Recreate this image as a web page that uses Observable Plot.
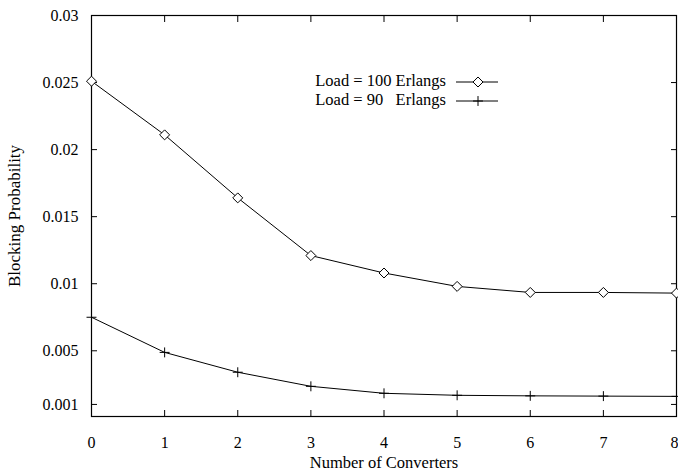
<!DOCTYPE html>
<html>
<head>
<meta charset="utf-8">
<script src="https://cdn.jsdelivr.net/npm/d3@7"></script>
<script src="https://cdn.jsdelivr.net/npm/@observablehq/plot@0.6"></script>
<style>
  html, body { margin: 0; padding: 0; background: #fff; }
  #wrap { position: relative; width: 678px; height: 472px; }
  #legend { position: absolute; left: 0; top: 0; width: 678px; height: 472px; pointer-events: none; }
</style>
</head>
<body>
<div id="wrap"></div>
<script>
const converters = [0, 1, 2, 3, 4, 5, 6, 7, 8];
const load100 = [0.0251, 0.0211, 0.0164, 0.0121, 0.0108, 0.0098, 0.00935, 0.00935, 0.0093];
const load90 = [0.0075, 0.00488, 0.0034, 0.00235, 0.00183, 0.00168, 0.00164, 0.00162, 0.0016];
const yTicks = [0.001, 0.005, 0.01, 0.015, 0.02, 0.025, 0.03];
const yTickLabels = ["0.001", "0.005", "0.01", "0.015", "0.02", "0.025", "0.03"];
const xTicks = [0, 1, 2, 3, 4, 5, 6, 7, 8];
const xTickLabels = ["0", "1", "2", "3", "4", "5", "6", "7", "8"];
const seriesNames = ["Load = 100 Erlangs", "Load = 90   Erlangs"];

const d100 = converters.map((x, i) => ({x, y: load100[i]}));
const d90 = converters.map((x, i) => ({x, y: load90[i]}));
const fmtY = d => yTickLabels[yTicks.indexOf(d)];
const font = "Liberation Serif, Times New Roman, serif";
const lastX = xTicks[xTicks.length - 1];

const chart = Plot.plot({
  width: 678,
  height: 472,
  marginLeft: 91,
  marginRight: 2,
  marginTop: 15,
  marginBottom: 56,
  style: {fontFamily: font, fontSize: "16px", color: "#000", background: "#fff"},
  x: {domain: [0, 8]},
  y: {domain: [0.0001, 0.03]},
  marks: [
    Plot.frame({stroke: "#000", strokeWidth: 1.2}),
    // y tick labels
    Plot.axisY({ticks: yTicks, tickFormat: fmtY, tickSize: 0, tickPadding: 13, fontSize: 16, label: null}),
    // x tick labels (last one right-aligned so it stays inside the picture)
    Plot.text(xTicks.filter(d => d !== lastX), {x: d => d, text: d => xTickLabels[xTicks.indexOf(d)], frameAnchor: "bottom", dy: 31, fontSize: 16}),
    Plot.text([lastX], {x: d => d, text: d => xTickLabels[xTicks.indexOf(d)], frameAnchor: "bottom", dy: 31, dx: 2, textAnchor: "end", fontSize: 16}),
    // inward ticks (mirrored)
    Plot.axisY({ticks: yTicks, tickFormat: () => "", tickSize: -6, label: null}),
    Plot.axisY({anchor: "right", ticks: yTicks, tickFormat: () => "", tickSize: -6, label: null}),
    Plot.axisX({ticks: xTicks, tickFormat: () => "", tickSize: -6, label: null}),
    Plot.axisX({anchor: "top", ticks: xTicks, tickFormat: () => "", tickSize: -6, label: null}),
    Plot.line(d100, {x: "x", y: "y", stroke: "#000", strokeWidth: 1}),
    Plot.dot(d100, {x: "x", y: "y", symbol: "diamond2", r: 4.5, stroke: "#000", fill: "#fff", strokeWidth: 1}),
    Plot.line(d90, {x: "x", y: "y", stroke: "#000", strokeWidth: 1}),
    Plot.dot(d90, {x: "x", y: "y", symbol: "plus", r: 3.3, stroke: "#000", strokeWidth: 1})
  ]
});

const wrap = document.getElementById("wrap");
wrap.appendChild(chart);

// axis titles & legend overlay
const ns = "http://www.w3.org/2000/svg";
const ov = document.createElementNS(ns, "svg");
ov.setAttribute("id", "legend");
ov.setAttribute("width", 678);
ov.setAttribute("height", 472);
ov.setAttribute("font-family", font);
ov.setAttribute("font-size", "16");
function txt(x, y, s, anchor, rot, size) {
  const t = document.createElementNS(ns, "text");
  t.setAttribute("x", x); t.setAttribute("y", y);
  t.setAttribute("text-anchor", anchor);
  t.setAttribute("dominant-baseline", "middle");
  t.setAttribute("font-size", size || 16);
  t.setAttribute("fill", "#000");
  t.style.whiteSpace = "pre";
  if (rot) t.setAttribute("transform", `rotate(-90 ${x} ${y})`);
  t.textContent = s;
  ov.appendChild(t);
  return t;
}
txt(384, 464, "Number of Converters", "middle", false, 16.5);
txt(16, 216, "Blocking Probability", "middle", true, 17);

const rows = [82, 101];
rows.forEach((ry, i) => {
  txt(446, ry, seriesNames[i], "end", false, 16.5);
  const l = document.createElementNS(ns, "line");
  l.setAttribute("x1", 456); l.setAttribute("x2", 498);
  l.setAttribute("y1", ry); l.setAttribute("y2", ry);
  l.setAttribute("stroke", "#000");
  ov.appendChild(l);
  const sym = i === 0 ? d3.symbol(d3.symbolDiamond2, 64) : d3.symbol(d3.symbolPlus, 34);
  const p = document.createElementNS(ns, "path");
  p.setAttribute("d", sym());
  p.setAttribute("transform", `translate(478,${ry})`);
  p.setAttribute("stroke", "#000");
  p.setAttribute("fill", i === 0 ? "#fff" : "none");
  ov.appendChild(p);
});
wrap.appendChild(ov);
</script>
</body>
</html>
